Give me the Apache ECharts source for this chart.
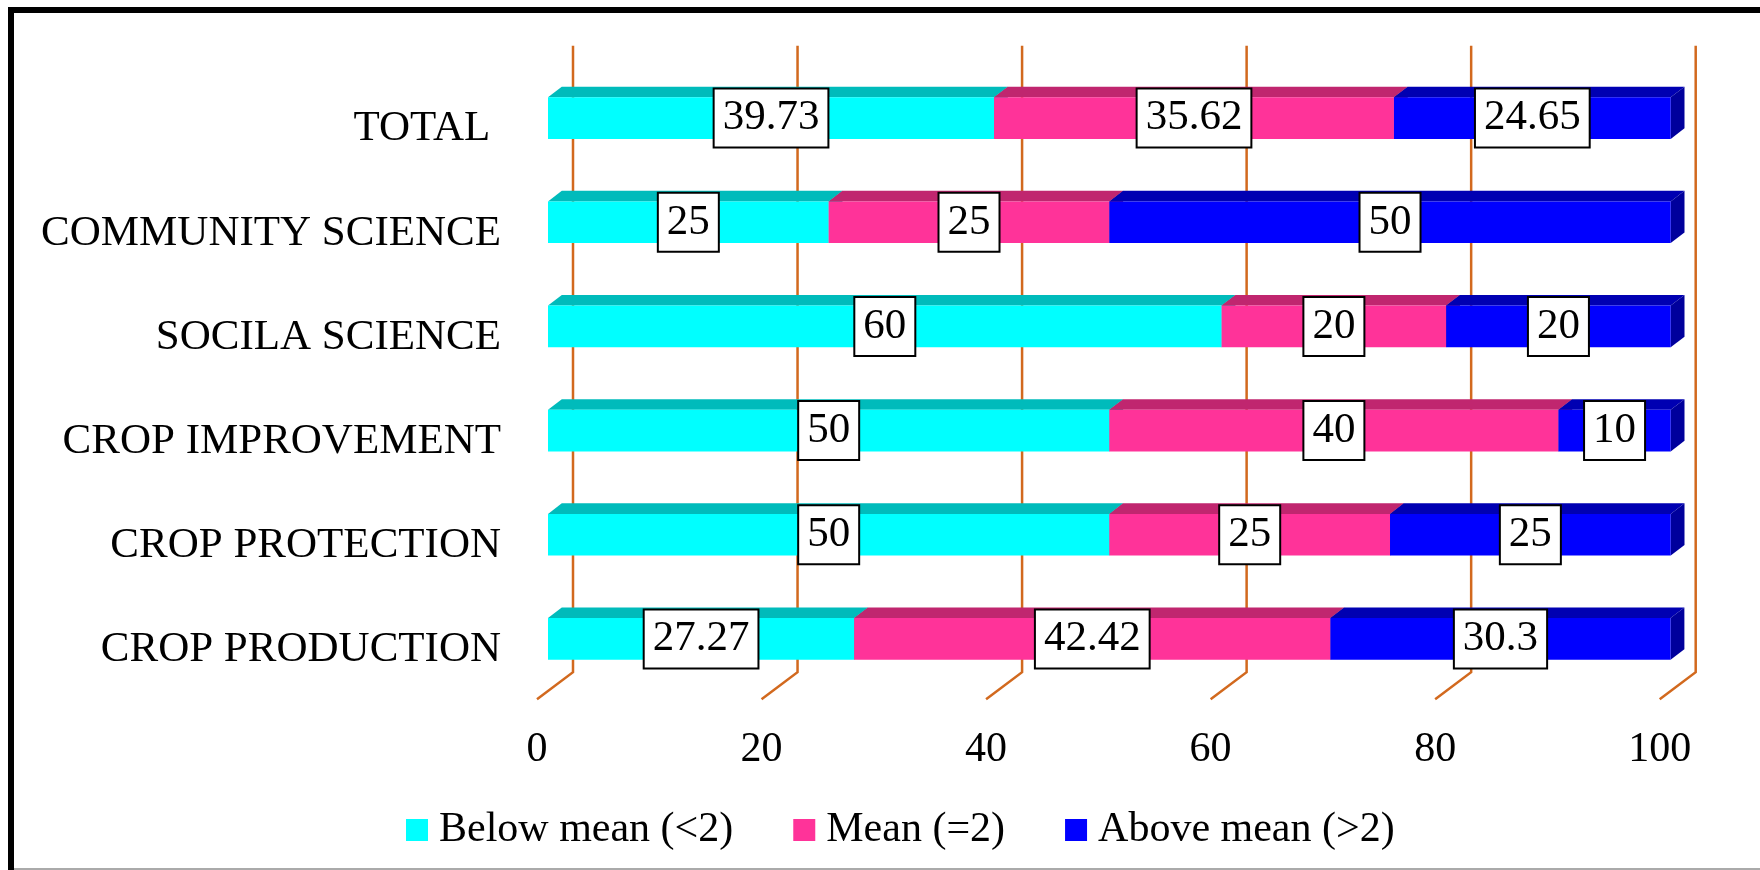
<!DOCTYPE html>
<html>
<head>
<meta charset="utf-8">
<script src="https://cdn.jsdelivr.net/npm/echarts@6/dist/echarts.min.js"></script>
<style>
  html, body { margin: 0; padding: 0; background: #ffffff; }
  #chart { width: 1760px; height: 870px; }
</style>
</head>
<body>
<div id="chart"></div>
<script>
// Share of responses per department, in percent
const categories = ['TOTAL ', 'COMMUNITY SCIENCE', 'SOCILA SCIENCE', 'CROP IMPROVEMENT', 'CROP PROTECTION', 'CROP PRODUCTION'];
const belowMean = [39.73, 25, 60, 50, 50, 27.27];
const atMean = [35.62, 25, 20, 40, 25, 42.42];
const aboveMean = [24.65, 50, 20, 10, 25, 30.3];
const seriesNames = ['Below mean (<2)', 'Mean (=2)', 'Above mean (>2)'];
const xTicks = [0, 20, 40, 60, 80, 100];

const FONT = '"Liberation Serif", "Times New Roman", serif';

// colours of each block: front face, top face, end face
const palette = [
  { front: '#00FFFF', top: '#00BBBB', side: '#009999' },
  { front: '#FF3399', top: '#C0266F', side: '#99205A' },
  { front: '#0000FF', top: '#0000B2', side: '#00009C' }
];

// pseudo-3D depth of a bar (right and up)
const DX = 13.8, DY = -10.6;
// back wall and floor-front offsets relative to the bar front plane
const WALL_DX = 25, WALL_DY = -18.8;
const FLOOR_DX = -11, FLOOR_DY = 8.3;

const seriesValues = [belowMean, atMean, aboveMean];

// stacked start of every block
const starts = seriesValues.map((vals, s) =>
  vals.map((v, i) => {
    let acc = 0;
    for (let k = 0; k < s; k++) acc += seriesValues[k][i];
    return acc;
  })
);

function blockRenderer(sIdx) {
  const col = palette[sIdx];
  return function (params, api) {
    const val = api.value(0);
    const cat = api.value(1);
    const start = api.value(2);
    const p0 = api.coord([start, cat]);
    const p1 = api.coord([start + val, cat]);
    const band = api.size([0, 1])[1];
    const h = band * 0.4;
    const top = p0[1] - h / 2;
    const bot = p0[1] + h / 2;
    const x0 = p0[0], x1 = p1[0];
    return {
      type: 'group',
      children: [
        {
          type: 'polygon',
          shape: { points: [[x0, top], [x1, top], [x1 + DX, top + DY], [x0 + DX, top + DY]] },
          style: { fill: col.top }
        },
        {
          type: 'polygon',
          shape: { points: [[x1, top], [x1 + DX, top + DY], [x1 + DX, bot + DY], [x1, bot]] },
          style: { fill: col.side }
        },
        {
          type: 'rect',
          shape: { x: x0, y: top, width: x1 - x0, height: h },
          style: { fill: col.front }
        },
        {
          type: 'text',
          z2: 100,
          x: (x0 + x1) / 2,
          y: p0[1],
          style: {
            text: String(val),
            font: '43px ' + FONT,
            fill: '#000000',
            align: 'center',
            verticalAlign: 'middle',
            backgroundColor: '#FFFFFF',
            borderColor: '#000000',
            borderWidth: 2,
            padding: [7, 8, 6, 8],
            lineHeight: 44
          }
        }
      ]
    };
  };
}

const blockSeries = seriesValues.map((vals, s) => ({
  type: 'custom',
  name: seriesNames[s],
  renderItem: blockRenderer(s),
  itemStyle: { color: palette[s].front },
  encode: { x: 0, y: 1 },
  data: vals.map((v, i) => [v, i, starts[s][i]]),
  z: 3
}));

// back-wall gridlines folding onto the floor
const gridSeries = {
  type: 'custom',
  name: 'grid',
  silent: true,
  z: 1,
  encode: { x: 0, y: 1 },
  data: xTicks.map(v => [v, 0]),
  renderItem: function (params, api) {
    const x = api.coord([api.value(0), 0])[0];
    const cs = params.coordSys;
    const top = cs.y, bottom = cs.y + cs.height;
    return {
      type: 'polyline',
      shape: {
        points: [
          [x + WALL_DX, top + WALL_DY - 1.5],
          [x + WALL_DX, bottom + WALL_DY],
          [x + FLOOR_DX, bottom + FLOOR_DY]
        ]
      },
      style: { stroke: '#D2691E', lineWidth: 2.5, fill: null }
    };
  }
};

const chart = echarts.init(document.getElementById('chart'), null, { renderer: 'canvas' });

chart.setOption({
  animation: false,
  backgroundColor: '#FFFFFF',
  grid: { left: 548, top: 66, width: 1122.7, height: 625 },
  xAxis: {
    type: 'value',
    min: 0,
    max: 100,
    interval: 20,
    splitLine: { show: false },
    axisLine: { show: false },
    axisTick: { show: false },
    axisLabel: {
      margin: 38,
      fontSize: 42,
      fontFamily: FONT,
      color: '#000000',
      padding: [0, 22, 0, 0]
    }
  },
  yAxis: {
    type: 'category',
    data: categories,
    inverse: true,
    axisLine: { show: false },
    axisTick: { show: false },
    splitLine: { show: false },
    axisLabel: {
      margin: 47,
      fontSize: 43,
      fontFamily: FONT,
      color: '#000000',
      verticalAlign: 'top',
      lineHeight: 22
    }
  },
  legend: {
    data: seriesNames,
    icon: 'rect',
    itemWidth: 22,
    itemHeight: 22,
    itemGap: 60,
    padding: 0,
    left: 406,
    top: 809,
    textStyle: {
      fontSize: 42,
      fontFamily: FONT,
      color: '#000000',
      padding: [0, 0, 0, 6]
    }
  },
  graphic: [
    { type: 'line', shape: { x1: 11, y1: 7, x2: 11, y2: 870 }, style: { stroke: '#000000', lineWidth: 6 }, silent: true },
    { type: 'line', shape: { x1: 8, y1: 10, x2: 1760, y2: 10 }, style: { stroke: '#000000', lineWidth: 6 }, silent: true },
    { type: 'line', shape: { x1: 14, y1: 869, x2: 1760, y2: 869 }, style: { stroke: '#AAAAAA', lineWidth: 2 }, silent: true }
  ],
  series: [gridSeries].concat(blockSeries)
});
</script>
</body>
</html>
